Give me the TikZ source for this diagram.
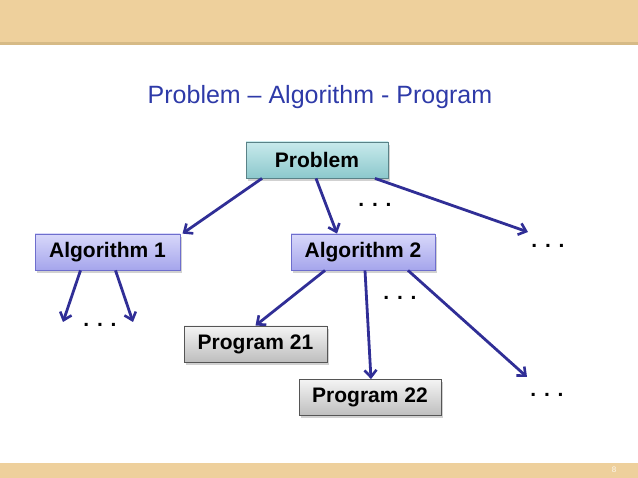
\documentclass[tikz,border=0pt]{standalone}
\usepackage{fontspec}
\setmainfont{Liberation Sans}
\usetikzlibrary{arrows.meta,shadows}
\definecolor{band}{RGB}{238,208,156}
\definecolor{bandline}{RGB}{214,186,134}
\definecolor{titleblue}{RGB}{46,58,168}
\definecolor{arrowblue}{RGB}{48,46,150}
\definecolor{probtop}{RGB}{200,234,236}
\definecolor{probbot}{RGB}{140,200,204}
\definecolor{probedge}{RGB}{90,130,135}
\definecolor{algtop}{RGB}{216,216,250}
\definecolor{algbot}{RGB}{165,165,236}
\definecolor{algedge}{RGB}{110,110,205}
\definecolor{progtop}{RGB}{244,244,244}
\definecolor{progbot}{RGB}{190,190,190}
\definecolor{progedge}{RGB}{85,85,85}
\tikzset{
  box/.style={draw, line width=0.8pt, minimum height=36pt, inner sep=0pt,
    font=\fontsize{21}{24}\selectfont\bfseries,
    drop shadow={shadow xshift=2pt, shadow yshift=-3pt, opacity=0.3, fill=black!60}},
  probbox/.style={box, draw=probedge, top color=probtop, bottom color=probbot},
  algbox/.style={box, draw=algedge, top color=algtop, bottom color=algbot},
  progbox/.style={box, draw=progedge, top color=progtop, bottom color=progbot},
  dots/.style={font=\fontsize{21}{24}\selectfont\bfseries, inner sep=0pt},
  conn/.style={draw=arrowblue, line width=2.8pt,
    -{Straight Barb[length=7pt,width=12pt,line width=2.6pt]}}
}
\begin{document}
\begin{tikzpicture}[x=1pt,y=-1pt]
\useasboundingbox (0,0) rectangle (638,478);
% bands
\fill[band] (0,0) rectangle (638,43);
\fill[bandline] (0,42.5) rectangle (638,45);
\fill[band] (0,463) rectangle (638,478);
\node[font=\fontsize{8}{9}\selectfont, text=white!85!band] (pg) at (614,470) {8};
% title
\node[font=\fontsize{25}{28}\selectfont, text=titleblue] (title) at (320,97) {Problem – Algorithm - Program};
% boxes
\node[probbox, minimum width=142pt] (prob) at (317,160) {Problem};
\node[algbox, minimum width=145pt] (alg1) at (107.5,252) {Algorithm 1};
\node[algbox, minimum width=144pt] (alg2) at (363,252) {Algorithm 2};
\node[progbox, minimum width=143pt] (p21) at (255.5,344) {Program 21};
\node[progbox, minimum width=142pt] (p22) at (370,397.5) {Program 22};
% dots
\node[dots] (d1) at (375,205) {. . .};
\node[dots] (d2) at (548,246) {. . .};
\node[dots] (d3) at (400,298) {. . .};
\node[dots] (d4) at (100,325) {. . .};
\node[dots] (d5) at (547,395) {. . .};
% free ends
\coordinate (e1) at (63,322);
\coordinate (e2) at (133,322);
\coordinate (e3) at (528,232);
\coordinate (e4) at (527,377);
% connectors
\draw[conn] ([xshift=-55pt]prob.south) -- ([xshift=75pt]alg1.north);
\draw[conn] ([xshift=-1pt]prob.south) -- ([xshift=-26pt]alg2.north);
\draw[conn] ([xshift=58pt]prob.south) -- (e3);
\draw[conn] ([xshift=-27pt]alg1.south) -- (e1);
\draw[conn] ([xshift=8pt]alg1.south) -- (e2);
\draw[conn] ([xshift=-38pt]alg2.south) -- ([xshift=0pt]p21.north);
\draw[conn] ([xshift=2pt]alg2.south) -- ([xshift=1pt]p22.north);
\draw[conn] ([xshift=45pt]alg2.south) -- (e4);
\end{tikzpicture}
\end{document}
